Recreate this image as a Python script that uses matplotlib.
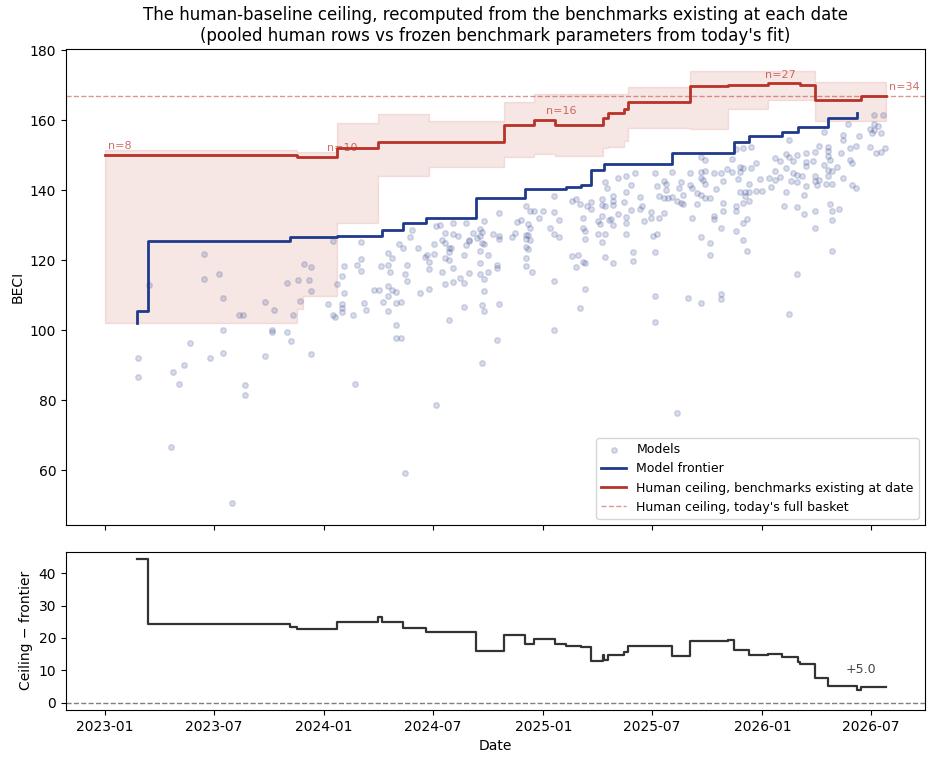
import numpy as np
import pandas as pd
import matplotlib
matplotlib.use("Agg")
import matplotlib.pyplot as plt
import matplotlib.dates as mdates

# --- models (date as decimal year, BECI) ---
model_year = [
    2023.45, 2023.52, 2023.45, 2023.20, 2023.91, 2023.94, 2023.83, 2023.88, 2023.93, 2024.06,
    2023.94, 2023.54, 2023.73, 2023.77, 2023.89, 2024.02, 2023.61, 2023.63, 2023.86, 2024.04,
    2024.05, 2024.04, 2023.54, 2023.76, 2023.76, 2023.83, 2023.39, 2023.85, 2023.15, 2023.48,
    2023.54, 2023.73, 2023.94, 2023.36, 2023.31, 2023.15, 2023.34, 2023.64, 2023.64, 2023.30,
    2023.58, 2024.14,
    2025.05, 2024.92, 2024.94, 2024.96, 2025.00, 2024.98, 2024.90, 2024.88, 2024.93, 2024.94,
    2025.05, 2025.07, 2025.03, 2025.05, 2025.07, 2024.80, 2024.73, 2024.71, 2024.72, 2024.71,
    2024.68, 2024.65, 2024.59, 2024.53, 2024.51, 2024.40, 2024.55, 2024.59, 2024.61, 2024.39,
    2024.54, 2024.66, 2024.70, 2024.77, 2024.80, 2024.80, 2024.86, 2024.87, 2024.92, 2024.93,
    2024.92, 2024.94, 2024.34, 2024.36, 2024.43, 2024.50, 2024.55, 2024.57, 2024.58, 2024.57,
    2024.65, 2024.66, 2024.72, 2024.73, 2024.71, 2024.75, 2024.92, 2024.93, 2024.17, 2024.29,
    2024.31, 2024.47, 2024.46, 2024.50, 2024.48, 2024.55, 2024.57, 2024.64, 2024.17, 2024.15,
    2024.17, 2024.09, 2024.26, 2024.29, 2024.38, 2024.48, 2024.59, 2024.71, 2024.79, 2024.79,
    2024.92, 2024.92, 2024.95, 2024.08, 2024.30, 2024.37, 2024.38, 2024.54, 2024.71, 2024.66,
    2024.73, 2024.75, 2024.62, 2024.64, 2024.59, 2024.55, 2024.44, 2024.48, 2025.05, 2024.09,
    2024.23, 2024.25, 2024.29, 2024.31, 2024.33, 2024.29, 2024.27, 2024.33, 2024.35, 2024.29,
    2024.18, 2024.19, 2024.08, 2024.08, 2024.08, 2024.13, 2024.73, 2024.72, 2024.73, 2024.80,
    2024.64, 2024.57, 2024.33, 2024.33, 2024.35, 2024.79, 2025.05, 2024.72, 2024.51, 2024.37,
    2025.28, 2025.29, 2025.34, 2025.38, 2025.42, 2025.40, 2025.38, 2025.32, 2025.32, 2025.32,
    2025.27, 2025.27, 2025.28, 2025.22, 2025.20, 2025.22, 2025.13, 2025.15, 2025.17, 2025.37,
    2025.44, 2025.40, 2025.44, 2025.45, 2025.34, 2025.27, 2025.31, 2025.30, 2025.32, 2025.25,
    2025.26, 2025.38, 2025.38, 2025.18, 2025.18, 2025.19, 2025.19, 2025.25, 2025.28, 2025.27,
    2025.38, 2025.49, 2025.49, 2025.46, 2025.53, 2025.55, 2025.50, 2025.52, 2025.51, 2025.41,
    2025.41, 2025.28, 2025.32, 2025.16, 2025.13, 2025.15, 2025.18, 2025.19, 2025.19, 2025.17,
    2025.51, 2025.51, 2025.66, 2025.72, 2025.81, 2025.81, 2025.61, 2025.51, 2025.55, 2025.56,
    2025.52, 2025.59, 2025.63, 2025.67, 2025.72, 2025.74, 2025.78, 2025.81, 2025.84, 2025.86,
    2025.90, 2025.91, 2025.90, 2025.95, 2025.97, 2025.89, 2025.94, 2025.99, 2025.82, 2025.72,
    2025.73, 2025.74, 2025.67, 2025.68, 2025.62, 2025.56, 2025.53, 2025.55, 2025.57, 2025.59,
    2025.61, 2025.63, 2025.64, 2025.64, 2025.70, 2025.72, 2025.74, 2025.76, 2025.79, 2025.70,
    2025.82, 2025.82, 2025.78, 2025.78, 2025.68, 2025.88, 2025.88, 2025.90, 2025.92, 2025.94,
    2025.92, 2025.94, 2025.91, 2025.97, 2026.00, 2025.93, 2025.91, 2025.81, 2025.72, 2025.76,
    2025.76, 2025.88, 2025.91, 2025.93, 2025.74, 2025.86, 2025.88, 2025.91, 2025.95, 2025.72,
    2026.51, 2026.55, 2026.51, 2026.53, 2026.49, 2026.51, 2026.50, 2026.54, 2026.56, 2026.54,
    2026.52, 2026.49, 2026.44, 2026.43, 2026.40, 2026.39, 2026.37, 2026.37, 2026.28, 2026.36,
    2026.30, 2026.30, 2026.30, 2026.26, 2026.24, 2026.20, 2026.16, 2026.12, 2026.11, 2026.12,
    2026.14, 2026.08, 2026.06, 2026.20, 2026.20, 2026.23, 2026.28, 2026.31, 2026.30, 2026.32,
    2026.34, 2026.40, 2026.41, 2026.11, 2026.06, 2026.14, 2026.16, 2026.18, 2026.13, 2026.16,
    2026.08, 2026.06, 2026.03, 2026.24, 2026.26, 2026.24, 2026.25, 2026.30, 2026.29, 2026.32,
    2026.37, 2026.41, 2026.43, 2026.20, 2026.04, 2026.11, 2026.19, 2026.10, 2026.16, 2026.19,
    2026.24, 2026.31, 2026.32, 2026.35, 2026.32, 2026.24, 2026.32, 2026.16, 2026.12,
]
model_beci = [
    121.8, 116.1, 114.7, 113.0, 118.9, 118.2, 113.6, 114.4, 114.4, 113.3,
    111.2, 109.4, 108.0, 105.8, 108.5, 107.5, 104.5, 104.5, 104.5, 104.5,
    103.8, 125.4, 100.2, 100.1, 99.5, 99.6, 96.3, 96.9, 92.0, 92.1,
    93.6, 92.7, 93.3, 90.0, 88.0, 86.8, 84.8, 84.4, 81.6, 66.7,
    50.6, 84.6,
    138.5, 135.5, 134.2, 134.2, 134.2, 132.1, 131.6, 130.9, 130.4, 129.3,
    133.8, 131.4, 129.3, 127.5, 126.6, 133.5, 131.3, 129.0, 128.2, 127.1,
    127.8, 130.7, 130.7, 130.2, 129.9, 128.8, 127.8, 127.6, 127.1, 126.6,
    125.9, 125.9, 126.5, 127.5, 126.9, 126.1, 126.6, 127.8, 127.3, 127.3,
    126.1, 125.9, 124.6, 123.5, 123.5, 124.8, 124.9, 123.5, 123.5, 122.3,
    124.5, 125.4, 124.9, 124.8, 122.8, 121.6, 123.9, 123.3, 125.2, 122.1,
    120.6, 121.4, 121.1, 121.8, 119.5, 120.7, 120.1, 121.4, 120.3, 118.7,
    117.1, 118.4, 118.5, 118.6, 118.6, 117.5, 117.9, 119.2, 118.8, 117.9,
    120.8, 118.3, 116.8, 115.6, 116.8, 116.0, 114.2, 116.7, 116.2, 116.5,
    114.7, 116.7, 114.9, 113.6, 113.9, 113.2, 110.7, 111.8, 114.2, 110.8,
    111.6, 111.6, 112.8, 111.5, 110.9, 109.9, 108.1, 107.8, 108.1, 105.6,
    107.9, 105.8, 107.6, 106.3, 105.2, 104.5, 111.2, 107.4, 105.6, 107.6,
    106.6, 103.1, 101.6, 97.8, 97.8, 97.4, 100.2, 90.8, 78.8, 59.2,
    142.5, 140.6, 143.5, 144.1, 145.1, 141.4, 139.4, 138.3, 137.0, 135.9,
    137.6, 135.9, 135.5, 136.8, 135.6, 134.6, 136.9, 137.6, 136.2, 136.6,
    138.0, 134.4, 134.7, 135.5, 133.3, 132.8, 131.9, 131.5, 130.1, 131.2,
    130.4, 132.5, 130.8, 132.1, 129.2, 128.3, 126.1, 127.6, 127.5, 125.2,
    127.5, 133.8, 132.0, 131.2, 132.1, 133.6, 126.9, 127.6, 122.4, 122.3,
    119.8, 121.1, 119.3, 121.6, 121.2, 118.1, 119.5, 119.3, 111.8, 106.3,
    109.8, 102.3, 109.4, 107.9, 110.5, 108.9, 76.4, 145.1, 142.6, 141.8,
    141.2, 145.2, 142.5, 145.1, 145.2, 145.4, 145.0, 145.0, 146.1, 145.2,
    146.8, 146.3, 145.2, 146.5, 147.8, 143.3, 141.8, 143.2, 142.7, 143.5,
    143.0, 141.8, 141.4, 140.7, 140.6, 140.2, 138.5, 137.8, 137.8, 138.1,
    136.9, 136.4, 136.0, 138.7, 139.2, 138.6, 137.9, 137.9, 140.3, 136.0,
    136.4, 134.2, 132.8, 131.8, 132.2, 135.5, 134.1, 139.6, 139.6, 139.5,
    138.5, 136.9, 136.4, 139.9, 139.9, 131.8, 130.8, 129.2, 126.7, 125.1,
    121.4, 128.3, 125.8, 122.7, 148.8, 149.0, 151.8, 152.1, 152.4, 149.4,
    161.6, 161.5, 159.0, 158.3, 157.4, 157.3, 156.3, 156.3, 152.1, 150.9,
    150.6, 152.5, 155.5, 152.7, 152.2, 159.0, 155.8, 154.5, 156.6, 150.6,
    152.5, 151.3, 149.9, 152.8, 150.9, 150.7, 150.1, 154.5, 150.3, 149.6,
    148.4, 148.4, 149.2, 148.0, 146.9, 148.4, 147.3, 148.7, 145.8, 145.6,
    146.8, 148.6, 147.8, 146.3, 145.6, 145.0, 144.4, 144.0, 142.7, 142.5,
    143.8, 143.1, 143.6, 144.0, 143.0, 142.7, 141.4, 144.2, 141.8, 141.8,
    143.6, 141.4, 140.6, 141.2, 140.9, 139.5, 138.7, 135.6, 135.2, 133.3,
    134.0, 136.1, 134.0, 134.7, 131.6, 129.2, 122.7, 116.0, 104.8,
]

# --- model frontier (step changes) ---
frontier_dates = ["2023-02-24", "2023-02-24", "2023-03-14", "2023-11-05", "2024-01-22",
                  "2024-04-07", "2024-05-11", "2024-06-19", "2024-09-10", "2024-12-02",
                  "2025-02-07", "2025-03-04", "2025-03-22", "2025-04-12", "2025-08-04",
                  "2025-11-14", "2025-12-09", "2026-02-03", "2026-03-02", "2026-04-21",
                  "2026-06-07"]
frontier_vals = [102.1, 105.6, 125.6, 126.6, 127.1, 128.8, 130.6, 132.0, 137.8, 140.4,
                 141.1, 141.4, 145.7, 147.5, 150.7, 153.9, 155.5, 156.7, 158.2, 160.6,
                 162.0]

# --- human ceiling from benchmarks existing at date, with its band ---
ceil_dates = ["2023-01-01", "2023-11-17", "2023-11-27", "2024-01-22", "2024-03-31",
              "2024-06-24", "2024-10-28", "2024-12-16", "2025-01-20", "2025-04-10",
              "2025-04-18", "2025-05-16", "2025-05-22", "2025-09-02", "2025-11-05",
              "2026-01-10", "2026-03-04", "2026-03-29", "2026-06-14"]
ceil_vals = [150.0, 149.4, 149.4, 152.0, 153.7, 153.7, 158.6, 160.0, 158.6, 160.6,
             162.2, 163.3, 165.1, 169.9, 170.2, 170.7, 170.2, 165.9, 167.0]
ceil_lo = [102.1, 106.0, 109.9, 130.7, 144.2, 146.6, 149.5, 150.4, 149.9, 152.0,
           152.5, 154.2, 157.8, 157.6, 163.3, 165.7, 165.7, 159.9, 159.9]
ceil_hi = [151.6, 151.0, 151.0, 159.2, 161.8, 159.9, 165.2, 167.4, 167.4, 167.4,
           167.4, 167.4, 169.6, 174.2, 174.2, 174.0, 174.0, 170.9, 170.9]
end_date = "2026-07-26"
full_basket = 167.0

label_dates = ["2023-01-01", "2024-01-01", "2025-01-01", "2026-01-01", end_date]
label_n = [8, 10, 16, 27, 34]

blue = "#1f3a8a"
red = "#b83228"

# convert
m_dates = pd.Timestamp("2023-01-01") + pd.to_timedelta(
    (np.array(model_year) - 2023) * 365.25, unit="D")
f_d = pd.to_datetime(frontier_dates)
c_d = pd.to_datetime(ceil_dates)
end = pd.Timestamp(end_date)
c_d_ext = c_d.append(pd.DatetimeIndex([end]))
c_v_ext = ceil_vals + [ceil_vals[-1]]


def value_at(dates, vals, d):
    i = np.searchsorted(dates.values, np.datetime64(d), side="right") - 1
    return vals[i]


# gap = ceiling - frontier on all change dates
grid = sorted(set([d for d in c_d if d >= f_d[0]]) | set(f_d) | {end})
gap = [value_at(c_d, ceil_vals, d) - value_at(f_d, frontier_vals, d) for d in grid]

fig = plt.figure(figsize=(9.37, 7.63), dpi=100)
ax = fig.add_axes([0.0704, 0.3119, 0.9168, 0.6239])
ax2 = fig.add_axes([0.0704, 0.0695, 0.9168, 0.2074], sharex=ax)

ax.scatter(m_dates, model_beci, s=16, color="#3d4f95", alpha=0.2, label="Models", zorder=1)
ax.fill_between(c_d_ext, ceil_lo + [ceil_lo[-1]], ceil_hi + [ceil_hi[-1]],
                step="post", color=red, alpha=0.12, zorder=0)
ax.step(f_d, frontier_vals, where="post", color=blue, lw=2.0, label="Model frontier", zorder=3)
ax.step(c_d_ext, c_v_ext, where="post", color=red, lw=2.0,
        label="Human ceiling, benchmarks existing at date", zorder=3)
ax.axhline(full_basket, color=red, ls="--", lw=1.0, alpha=0.5,
           label="Human ceiling, today's full basket")

for d, n in zip(label_dates, label_n):
    d = pd.Timestamp(d)
    ax.annotate(f"n={n}", (d, value_at(c_d, ceil_vals, d)), xytext=(2, 3),
                textcoords="offset points", fontsize=8, color=red, alpha=0.7,
                ha="left", va="bottom")

ax.set_ylabel("BECI")
ax.set_title("The human-baseline ceiling, recomputed from the benchmarks existing at each date\n"
             "(pooled human rows vs frozen benchmark parameters from today's fit)", fontsize=12)
ax.legend(loc="lower right", fontsize=9)
ax.tick_params(labelbottom=False)

ax2.step(grid, gap, where="post", color="#333333", lw=1.6)
ax2.axhline(0, color="grey", ls="--", lw=1.0)
ax2.annotate(f"{gap[-1]:+.1f}", (grid[-1], gap[-1]), xytext=(-18, 12),
             textcoords="offset points", fontsize=9, color="#444444",
             ha="center", va="center")
ax2.set_ylabel("Ceiling \u2212 frontier")
ax2.set_xlabel("Date")
ax2.xaxis.set_major_locator(mdates.MonthLocator(bymonth=[1, 7]))
ax2.xaxis.set_major_formatter(mdates.DateFormatter("%Y-%m"))

fig.savefig("out.png", dpi=100)
